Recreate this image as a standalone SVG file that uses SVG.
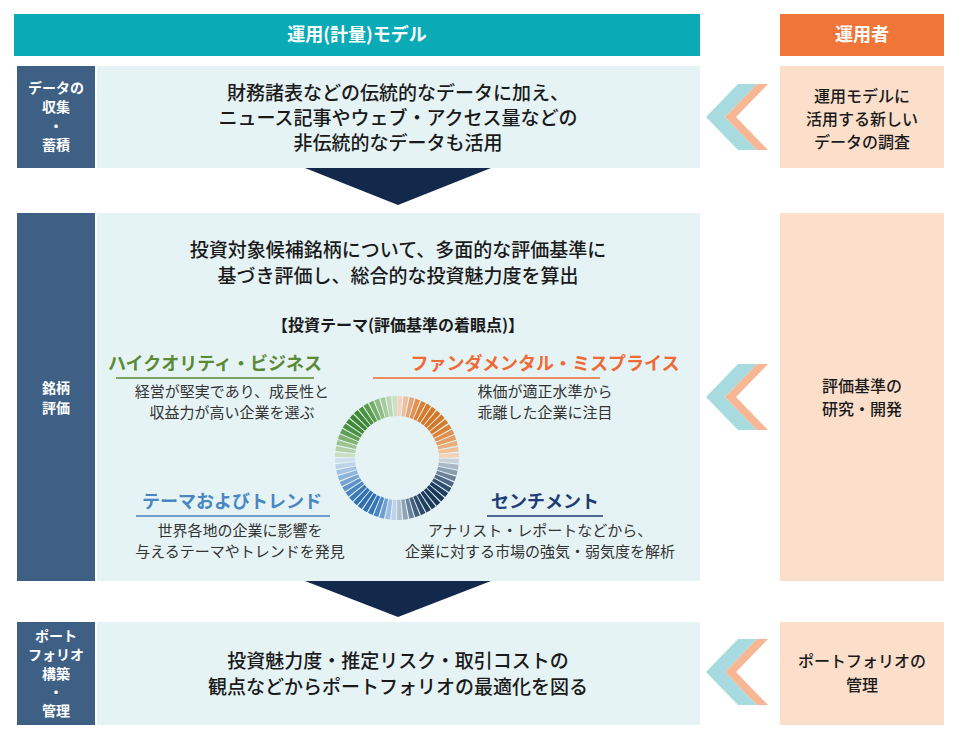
<svg xmlns="http://www.w3.org/2000/svg" width="956" height="736" viewBox="0 0 956 736">
<style>
text{font-family:"Noto Sans CJK JP","Noto Sans",sans-serif}
.hd{fill:#fff;font-size:18px;font-weight:bold;text-anchor:middle}
.lb{fill:#3e6085}.lt{fill:#fff;font-size:14px;font-weight:bold;text-anchor:middle}
.bx{fill:#e5f3f5}.pk{fill:#fbdfcb}
.mt{fill:#1a1a1a;font-size:19px;font-weight:500;text-anchor:middle}
.rt{fill:#1a1a1a;font-size:16px;font-weight:500;text-anchor:middle}
.st{fill:#333;font-size:15px;text-anchor:middle}
.th{font-size:18px;font-weight:bold;text-anchor:middle}
.ar{fill:#13294b}
.c1{fill:#a7dbe0}.c2{fill:#f7b794}
.s{fill:none;stroke-width:20}
</style>
<rect x="14" y="14" width="686" height="42" fill="#0aaab7"/>
<text class="hd" x="357" y="41">運用(計量)モデル</text>
<rect x="780" y="14" width="164" height="42" fill="#ef7538"/>
<text class="hd" x="862" y="41">運用者</text>

<g id="n1">
<rect class="lb" x="17" y="66" width="78" height="102"/>
<text class="lt" x="56" y="93">データの</text><text class="lt" x="56" y="112">収集</text><text class="lt" x="56" y="131">・</text><text class="lt" x="56" y="150">蓄積</text>
<rect class="bx" x="97" y="66" width="603" height="102"/>
<text class="mt" x="398" y="100">財務諸表などの伝統的なデータに加え、</text>
<text class="mt" x="398" y="125">ニュース記事やウェブ・アクセス量などの</text>
<text class="mt" x="398" y="150">非伝統的なデータも活用</text>
<rect class="pk" x="780" y="66" width="164" height="102"/>
<text class="rt" x="862" y="102">運用モデルに</text><text class="rt" x="862" y="125">活用する新しい</text><text class="rt" x="862" y="148">データの調査</text>
</g>

<g id="n2">
<rect class="lb" x="17" y="213" width="78" height="368"/>
<text class="lt" x="56" y="393">銘柄</text><text class="lt" x="56" y="413">評価</text>
<rect class="bx" x="97" y="213" width="603" height="368"/>
<text class="mt" x="398" y="257">投資対象候補銘柄について、多面的な評価基準に</text>
<text class="mt" x="398" y="283">基づき評価し、総合的な投資魅力度を算出</text>
<text x="398" y="331" style="font-size:16px;font-weight:bold;text-anchor:middle;fill:#1a1a1a">【投資テーマ(評価基準の着眼点)】</text>
<text class="th" x="215" y="370" fill="#5b8a35">ハイクオリティ・ビジネス</text>
<line x1="116" y1="378" x2="314" y2="378" stroke="#5b8a35" stroke-width="1.5"/>
<text class="th" x="545" y="370" fill="#ef6a35">ファンダメンタル・ミスプライス</text>
<line x1="373" y1="378" x2="600" y2="378" stroke="#ef6a35" stroke-width="1.5"/>
<text class="st" x="232" y="397">経営が堅実であり、成長性と</text>
<text class="st" x="232" y="418">収益力が高い企業を選ぶ</text>
<text class="st" x="545" y="397">株価が適正水準から</text>
<text class="st" x="545" y="418">乖離した企業に注目</text>
<text class="th" x="232" y="508" fill="#4a86c2">テーマおよびトレンド</text>
<line x1="136" y1="516" x2="330" y2="516" stroke="#4a86c2" stroke-width="1.5"/>
<text class="th" x="545" y="508" fill="#1f3d74">センチメント</text>
<line x1="487" y1="516" x2="603" y2="516" stroke="#1f3d74" stroke-width="1.5"/>
<text class="st" x="240" y="536">世界各地の企業に影響を</text>
<text class="st" x="240" y="557">与えるテーマやトレンドを発見</text>
<text class="st" x="540" y="536">アナリスト・レポートなどから、</text>
<text class="st" x="540" y="557">企業に対する市場の強気・弱気度を解析</text>
<rect class="pk" x="780" y="213" width="164" height="368"/>
<text class="rt" x="862" y="392">評価基準の</text><text class="rt" x="862" y="415">研究・開発</text>
</g>

<g id="n3">
<rect class="lb" x="17" y="622" width="78" height="103"/>
<text class="lt" x="56" y="641">ポート</text><text class="lt" x="56" y="660">フォリオ</text><text class="lt" x="56" y="679">構築</text><text class="lt" x="56" y="697">・</text><text class="lt" x="56" y="716">管理</text>
<rect class="bx" x="97" y="622" width="603" height="103"/>
<text class="mt" x="398" y="668">投資魅力度・推定リスク・取引コストの</text>
<text class="mt" x="398" y="694">観点などからポートフォリオの最適化を図る</text>
<rect class="pk" x="780" y="622" width="164" height="103"/>
<text class="rt" x="862" y="667">ポートフォリオの</text><text class="rt" x="862" y="691">管理</text>
</g>

<g id="connectors">
<polygon class="ar" points="305,168 491,168 398,205"/>
<polygon class="ar" points="305,581 491,581 398,617"/>
<g id="ch1"><polygon class="c1" points="738,84 757,84 725,117 757,150 738,150 706,117"/><polygon class="c2" points="757,84 768,84 736,117 768,150 757,150 725,117"/></g>
<g transform="translate(0,280)"><polygon class="c1" points="738,84 757,84 725,117 757,150 738,150 706,117"/><polygon class="c2" points="757,84 768,84 736,117 768,150 757,150 725,117"/></g>
<g transform="translate(0,555)"><polygon class="c1" points="738,84 757,84 725,117 757,150 738,150 706,117"/><polygon class="c2" points="757,84 768,84 736,117 768,150 757,150 725,117"/></g>
</g>

<g id="ring" transform="rotate(-90 397 458)" stroke-dasharray="4.1 322.63">
<circle class="s" cx="397" cy="458" r="52" stroke="#f3d3bd" stroke-dashoffset="-0.5"/>
<circle class="s" cx="397" cy="458" r="52" stroke="#eebf9e" stroke-dashoffset="-5.6"/>
<circle class="s" cx="397" cy="458" r="52" stroke="#e8a472" stroke-dashoffset="-10.7"/>
<circle class="s" cx="397" cy="458" r="52" stroke="#e38f50" stroke-dashoffset="-15.8"/>
<circle class="s" cx="397" cy="458" r="52" stroke="#dd7f35" stroke-dashoffset="-20.9"/>
<circle class="s" cx="397" cy="458" r="52" stroke="#d97a2b" stroke-dashoffset="-26.0"/>
<circle class="s" cx="397" cy="458" r="52" stroke="#d67728" stroke-dashoffset="-31.1"/>
<circle class="s" cx="397" cy="458" r="52" stroke="#d67728" stroke-dashoffset="-36.2"/>
<circle class="s" cx="397" cy="458" r="52" stroke="#d67728" stroke-dashoffset="-41.3"/>
<circle class="s" cx="397" cy="458" r="52" stroke="#d97a2b" stroke-dashoffset="-46.4"/>
<circle class="s" cx="397" cy="458" r="52" stroke="#dc8238" stroke-dashoffset="-51.6"/>
<circle class="s" cx="397" cy="458" r="52" stroke="#e08f4c" stroke-dashoffset="-56.7"/>
<circle class="s" cx="397" cy="458" r="52" stroke="#e49d62" stroke-dashoffset="-61.8"/>
<circle class="s" cx="397" cy="458" r="52" stroke="#e9ae7c" stroke-dashoffset="-66.9"/>
<circle class="s" cx="397" cy="458" r="52" stroke="#eec19a" stroke-dashoffset="-72.0"/>
<circle class="s" cx="397" cy="458" r="52" stroke="#f2d2b8" stroke-dashoffset="-77.1"/>
<circle class="s" cx="397" cy="458" r="52" stroke="#c9d1da" stroke-dashoffset="-82.2"/>
<circle class="s" cx="397" cy="458" r="52" stroke="#a9b7c6" stroke-dashoffset="-87.3"/>
<circle class="s" cx="397" cy="458" r="52" stroke="#8a9db1" stroke-dashoffset="-92.4"/>
<circle class="s" cx="397" cy="458" r="52" stroke="#6a8199" stroke-dashoffset="-97.5"/>
<circle class="s" cx="397" cy="458" r="52" stroke="#4c6683" stroke-dashoffset="-102.6"/>
<circle class="s" cx="397" cy="458" r="52" stroke="#2f4d6e" stroke-dashoffset="-107.7"/>
<circle class="s" cx="397" cy="458" r="52" stroke="#1f3d60" stroke-dashoffset="-112.8"/>
<circle class="s" cx="397" cy="458" r="52" stroke="#1b3858" stroke-dashoffset="-117.9"/>
<circle class="s" cx="397" cy="458" r="52" stroke="#1b3858" stroke-dashoffset="-123.0"/>
<circle class="s" cx="397" cy="458" r="52" stroke="#1e3a5c" stroke-dashoffset="-128.1"/>
<circle class="s" cx="397" cy="458" r="52" stroke="#22405f" stroke-dashoffset="-133.2"/>
<circle class="s" cx="397" cy="458" r="52" stroke="#2d4a6a" stroke-dashoffset="-138.3"/>
<circle class="s" cx="397" cy="458" r="52" stroke="#47627f" stroke-dashoffset="-143.4"/>
<circle class="s" cx="397" cy="458" r="52" stroke="#6a8199" stroke-dashoffset="-148.5"/>
<circle class="s" cx="397" cy="458" r="52" stroke="#8fa2b6" stroke-dashoffset="-153.7"/>
<circle class="s" cx="397" cy="458" r="52" stroke="#b3c0ce" stroke-dashoffset="-158.8"/>
<circle class="s" cx="397" cy="458" r="52" stroke="#bdd3ea" stroke-dashoffset="-163.9"/>
<circle class="s" cx="397" cy="458" r="52" stroke="#9dbfe2" stroke-dashoffset="-169.0"/>
<circle class="s" cx="397" cy="458" r="52" stroke="#6f9fd0" stroke-dashoffset="-174.1"/>
<circle class="s" cx="397" cy="458" r="52" stroke="#4a86c2" stroke-dashoffset="-179.2"/>
<circle class="s" cx="397" cy="458" r="52" stroke="#3676b8" stroke-dashoffset="-184.3"/>
<circle class="s" cx="397" cy="458" r="52" stroke="#2f6fb0" stroke-dashoffset="-189.4"/>
<circle class="s" cx="397" cy="458" r="52" stroke="#2f6fb0" stroke-dashoffset="-194.5"/>
<circle class="s" cx="397" cy="458" r="52" stroke="#3272b3" stroke-dashoffset="-199.6"/>
<circle class="s" cx="397" cy="458" r="52" stroke="#3a7ab8" stroke-dashoffset="-204.7"/>
<circle class="s" cx="397" cy="458" r="52" stroke="#4a86c2" stroke-dashoffset="-209.8"/>
<circle class="s" cx="397" cy="458" r="52" stroke="#5f94ca" stroke-dashoffset="-214.9"/>
<circle class="s" cx="397" cy="458" r="52" stroke="#76a3d2" stroke-dashoffset="-220.0"/>
<circle class="s" cx="397" cy="458" r="52" stroke="#8fb4da" stroke-dashoffset="-225.1"/>
<circle class="s" cx="397" cy="458" r="52" stroke="#a6c4e2" stroke-dashoffset="-230.2"/>
<circle class="s" cx="397" cy="458" r="52" stroke="#bcd3ea" stroke-dashoffset="-235.3"/>
<circle class="s" cx="397" cy="458" r="52" stroke="#cfdff0" stroke-dashoffset="-240.4"/>
<circle class="s" cx="397" cy="458" r="52" stroke="#c9dec2" stroke-dashoffset="-245.5"/>
<circle class="s" cx="397" cy="458" r="52" stroke="#b3d1a8" stroke-dashoffset="-250.6"/>
<circle class="s" cx="397" cy="458" r="52" stroke="#9cc48e" stroke-dashoffset="-255.8"/>
<circle class="s" cx="397" cy="458" r="52" stroke="#7fb36f" stroke-dashoffset="-260.9"/>
<circle class="s" cx="397" cy="458" r="52" stroke="#5f9f50" stroke-dashoffset="-266.0"/>
<circle class="s" cx="397" cy="458" r="52" stroke="#4a9140" stroke-dashoffset="-271.1"/>
<circle class="s" cx="397" cy="458" r="52" stroke="#3f8a36" stroke-dashoffset="-276.2"/>
<circle class="s" cx="397" cy="458" r="52" stroke="#3e8835" stroke-dashoffset="-281.3"/>
<circle class="s" cx="397" cy="458" r="52" stroke="#3f8a36" stroke-dashoffset="-286.4"/>
<circle class="s" cx="397" cy="458" r="52" stroke="#4a9140" stroke-dashoffset="-291.5"/>
<circle class="s" cx="397" cy="458" r="52" stroke="#5c9c4e" stroke-dashoffset="-296.6"/>
<circle class="s" cx="397" cy="458" r="52" stroke="#74ad66" stroke-dashoffset="-301.7"/>
<circle class="s" cx="397" cy="458" r="52" stroke="#8fbd83" stroke-dashoffset="-306.8"/>
<circle class="s" cx="397" cy="458" r="52" stroke="#a6cb9c" stroke-dashoffset="-311.9"/>
<circle class="s" cx="397" cy="458" r="52" stroke="#bad7b2" stroke-dashoffset="-317.0"/>
<circle class="s" cx="397" cy="458" r="52" stroke="#cbe0c5" stroke-dashoffset="-322.1"/>
</g>
</svg>
